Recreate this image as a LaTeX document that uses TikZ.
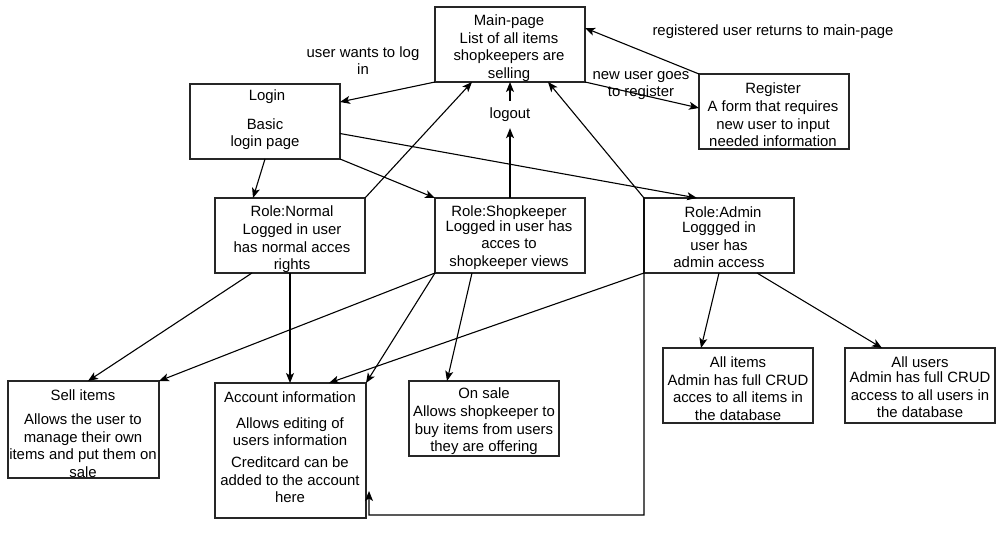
\documentclass[tikz,border=0pt]{standalone}
\usepackage{fontspec}
\setmainfont{Liberation Sans}
\usetikzlibrary{arrows.meta}
\begin{document}
\begin{tikzpicture}[x=1pt,y=-1pt,
 box/.style={draw=black!85, line width=1.2pt, minimum width=150pt, minimum height=75pt, inner sep=0pt, outer sep=0pt},
 txt/.style={align=center, font=\fontsize{14.9}{17.6}\selectfont, inner sep=0pt, text=black, yshift=-1.5pt},
 conn/.style={line width=1.1pt, -{Stealth[length=10pt,width=8pt,inset=2.5pt]}},
 conn2/.style={line width=1.1pt, {Stealth[length=10pt,width=8pt,inset=2.5pt]}-{Stealth[length=10pt,width=8pt,inset=2.5pt]}},
]
\useasboundingbox[fill=white] (0,0) rectangle (1003,551);
% boxes
\node[box] (main) at (510,44.5) {};
\node[box] (login) at (265,121.5) {};
\node[box] (reg) at (774,111.5) {};
\node[box] (normal) at (290,235.5) {};
\node[box] (shop) at (510,235.5) {};
\node[box] (admin) at (719,235.5) {};
\node[box, minimum width=151pt, minimum height=97pt] (sell) at (83.5,429.5) {};
\node[box, minimum width=151pt, minimum height=135pt] (acc) at (290.5,450.5) {};
\node[box] (onsale) at (484,418.5) {};
\node[box] (items) at (738,385.5) {};
\node[box] (users) at (920,385.5) {};
% box texts
\node[txt] (mainT) at (509,46.5) {Main-page\\List of all items\\shopkeepers are\\selling};
\node[txt] (loginT) at (267,95) {Login};
\node[txt] (loginB) at (265,132.5) {Basic\\login page};
\node[txt] (regT) at (773,113.5) {Register\\A form that requires\\new user to input\\needed information};
\node[txt] (normalT) at (292,238) {Role:Normal\\Logged in user\\has normal acces\\rights};
\node[txt] (shopT) at (509,211) {Role:Shopkeeper};
\node[txt] (shopB) at (509,243.5) {Logged in user has\\acces to\\shopkeeper views};
\node[txt] (adminT) at (723,211) {Role:Admin};
\node[txt] (adminB) at (719,243.5) {Loggged in\\user has\\admin access};
\node[txt] (sellT) at (83,394) {Sell items};
\node[txt] (sellB) at (83,444) {Allows the user to\\manage their own\\items and put them on\\sale};
\node[txt] (accT) at (290,396) {Account information};
\node[txt] (accB) at (290,430) {Allows editing of\\users information};
\node[txt] (accC) at (290,478.5) {Creditcard can be\\added to the account\\here};
\node[txt] (onsaleT) at (484,420) {On sale\\Allows shopkeeper to\\buy items from users\\they are offering};
\node[txt] (itemsT) at (738,387) {All items\\Admin has full CRUD\\acces to all items in\\the database};
\node[txt] (usersT) at (920,361) {All users};
\node[txt] (usersB) at (920,393.5) {Admin has full CRUD\\access to all users in\\the database};
% labels
\node[txt] (lblLogin) at (363,59) {user wants to log\\in};
\node[txt, minimum height=27pt] (logout) at (510,113) {logout};
\node[txt] (lblNew) at (641,84) {new user goes\\to register};
\node[txt] (lblReg) at (773,30) {registered user returns to main-page};
% connectors
\draw[conn] (main.south west) -- ([yshift=19.5pt]login.east);
\draw[conn] (normal.north east) -- ([xshift=37pt]main.south west);
\draw[conn] (shop.north) -- (logout.south);
\draw[conn] (logout.north) -- (main.south);
\draw[conn] ([xshift=75pt]login.south west) -- ([xshift=38pt]normal.north west);
\draw[conn] (login.south east) -- (shop.north west);
\draw[conn] ([yshift=-12pt]login.east) -- ([xshift=53pt]admin.north west);
\draw[conn] (main.south east) -- ([yshift=3.5pt]reg.west);
\draw[conn] (reg.north west) -- ([yshift=16.5pt]main.east);
\draw[conn] ([xshift=37pt]normal.south west) -- ([xshift=80pt]sell.north west);
\draw[conn] (normal.south) -- ([xshift=75pt]acc.north west);
\draw[conn] (shop.south west) -- (sell.north east);
\draw[conn] (shop.south west) -- (acc.north east);
\draw[conn] (admin.south west) -- ([xshift=114pt]acc.north west);
\draw[conn] ([xshift=37pt]shop.south west) -- ([xshift=38pt]onsale.north west);
\draw[conn] (admin.south) -- ([xshift=38pt]items.north west);
\draw[conn] ([xshift=38pt]admin.south) -- ([xshift=37pt]users.north west);
\coordinate (loopA) at (644,515);
\coordinate (loopB) at (369,491);
\draw[conn2] ([xshift=-37pt]main.south east) -- (admin.north west) -- (admin.north west |- loopA) -| (loopB);
\end{tikzpicture}
\end{document}
